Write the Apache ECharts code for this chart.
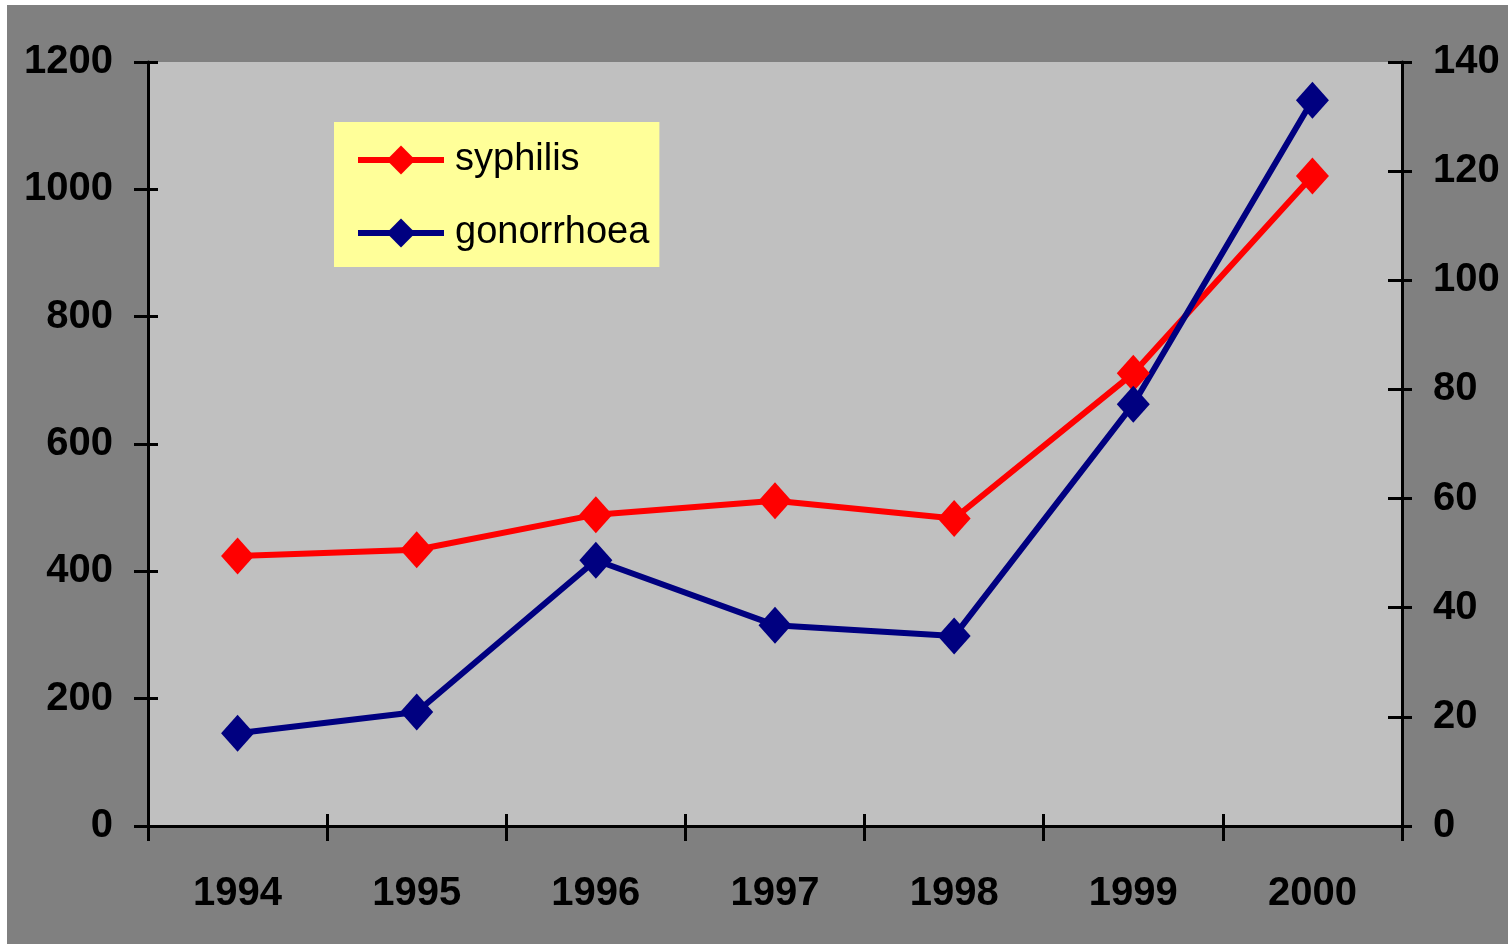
<!DOCTYPE html>
<html>
<head>
<meta charset="utf-8">
<script src="https://cdn.jsdelivr.net/npm/echarts@6/dist/echarts.min.js"></script>
<style>
  html, body { margin: 0; padding: 0; background: #ffffff; }
  #chart { position: absolute; left: 7px; top: 5px; width: 1501px; height: 939px; }
</style>
</head>
<body>
<div id="chart"></div>
<script>
const years = ['1994', '1995', '1996', '1997', '1998', '1999', '2000'];
const syphilis = [424, 434, 489, 511, 483, 711, 1021];     // left axis
const gonorrhoea = [17.0, 20.9, 48.7, 36.8, 34.8, 77.3, 133]; // right axis
const leftTicks = { min: 0, max: 1200, interval: 200 };
const rightTicks = { min: 0, max: 140, interval: 20 };

const axisFont = "'Liberation Sans Narrow', 'Arial Narrow', 'Liberation Sans', Arial, sans-serif";
const black = '#000000';

const chart = echarts.init(document.getElementById('chart'), null, { renderer: 'canvas' });

// plain numbers, no thousands separator
const plain = function (v) { return String(v); };

const labelStyle = {
  color: black,
  fontFamily: axisFont,
  fontWeight: 'bold',
  fontSize: 40,
  formatter: plain
};

const option = {
  animation: false,
  backgroundColor: '#808080',
  grid: {
    left: 141,
    top: 57,
    right: 106,
    bottom: 118,
    outerBoundsMode: 'none',
    containLabel: false,
    show: true,
    backgroundColor: '#c0c0c0',
    borderWidth: 0
  },
  legend: {
    left: 327,
    top: 117,
    orient: 'vertical',
    backgroundColor: '#ffff99',
    padding: [18, 10, 14, 21],
    itemWidth: 86,
    itemHeight: 36,
    itemGap: 33,
    lineStyle: { width: 6 },
    textStyle: {
      color: black,
      fontFamily: "'Liberation Sans', Arial, sans-serif",
      fontSize: 38,
      lineHeight: 40,
      padding: [0, 0, 0, 6]
    },
    data: ['syphilis', 'gonorrhoea']
  },
  xAxis: [{
    type: 'category',
    data: years,
    boundaryGap: true,
    position: 'bottom',
    axisLine: { lineStyle: { color: black, width: 3 } },
    axisTick: { show: true, length: 15, lineStyle: { color: black, width: 3 } },
    axisLabel: Object.assign({ margin: 48 }, labelStyle),
    splitLine: { show: false }
  }, {
    // inner half of the crossing ticks
    type: 'category',
    data: years,
    boundaryGap: true,
    position: 'bottom',
    axisLine: { show: false },
    axisTick: { show: true, inside: true, length: 12, lineStyle: { color: black, width: 3 } },
    axisLabel: { show: false },
    splitLine: { show: false }
  }],
  yAxis: [{
    type: 'value',
    position: 'left',
    min: leftTicks.min,
    max: leftTicks.max,
    interval: leftTicks.interval,
    axisLine: { show: true, lineStyle: { color: black, width: 3 } },
    axisTick: { show: true, length: 14, lineStyle: { color: black, width: 3 } },
    axisLabel: Object.assign({ margin: 35 }, labelStyle),
    splitLine: { show: false }
  }, {
    type: 'value',
    position: 'right',
    min: rightTicks.min,
    max: rightTicks.max,
    interval: rightTicks.interval,
    axisLine: { show: true, lineStyle: { color: black, width: 3 } },
    axisTick: { show: true, length: 10, lineStyle: { color: black, width: 3 } },
    axisLabel: Object.assign({ margin: 31 }, labelStyle),
    splitLine: { show: false }
  }, {
    type: 'value',
    position: 'left',
    min: leftTicks.min,
    max: leftTicks.max,
    interval: leftTicks.interval,
    axisLine: { show: false },
    axisTick: { show: true, inside: true, length: 10, lineStyle: { color: black, width: 3 } },
    axisLabel: { show: false },
    splitLine: { show: false }
  }, {
    type: 'value',
    position: 'right',
    min: rightTicks.min,
    max: rightTicks.max,
    interval: rightTicks.interval,
    axisLine: { show: false },
    axisTick: { show: true, inside: true, length: 14, lineStyle: { color: black, width: 3 } },
    axisLabel: { show: false },
    splitLine: { show: false }
  }],
  series: [{
    name: 'syphilis',
    type: 'line',
    xAxisIndex: 0,
    yAxisIndex: 0,
    data: syphilis,
    symbol: 'diamond',
    symbolSize: [33, 37],
    showAllSymbol: true,
    color: '#ff0000',
    lineStyle: { color: '#ff0000', width: 6 },
    itemStyle: { color: '#ff0000' }
  }, {
    name: 'gonorrhoea',
    type: 'line',
    xAxisIndex: 0,
    yAxisIndex: 1,
    data: gonorrhoea,
    symbol: 'diamond',
    symbolSize: [33, 37],
    showAllSymbol: true,
    color: '#000080',
    lineStyle: { color: '#000080', width: 6 },
    itemStyle: { color: '#000080' }
  }]
};

chart.setOption(option);
</script>
</body>
</html>
